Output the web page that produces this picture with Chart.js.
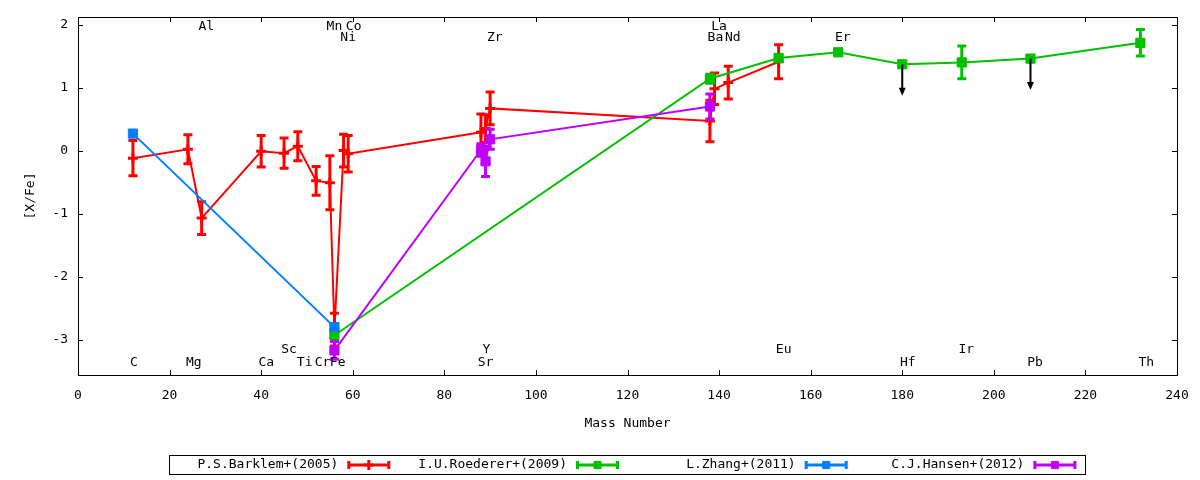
<!DOCTYPE html>
<html>
<head>
<meta charset="utf-8">
<script src="https://cdn.jsdelivr.net/npm/chart.js@4.4.0/dist/chart.umd.min.js"></script>
<style>
  html, body { margin: 0; padding: 0; background: #fff; }
  canvas { display: block; }
</style>
</head>
<body>
<canvas id="chart" width="1200" height="480"></canvas>
<script>
// [X/Fe] against mass number, one set of arrays per study
const barklemMass = [12, 24, 27, 40, 45, 48, 52, 55, 56, 58, 59, 88, 89, 90, 138, 139, 142, 153];
const barklemVal  = [-0.12, 0.02, -1.07, -0.01, -0.04, 0.07, -0.48, -0.51, -2.84, 0.0, -0.05, 0.29, 0.35, 0.67, 0.47, 0.98, 1.08, 1.41];
const barklemErr  = [0.28, 0.23, 0.26, 0.25, 0.24, 0.23, 0.23, 0.43, 0.26, 0.26, 0.29, 0.29, 0.22, 0.26, 0.33, 0.25, 0.26, 0.27];

const roedererMass  = [56, 138, 153, 166, 180, 193, 208, 232];
const roedererVal   = [-2.93, 1.14, 1.47, 1.56, 1.37, 1.40, 1.46, 1.71];
const roedererErr   = [0.03, 0.07, 0, 0, 0, 0.26, 0, 0.21];
const roedererUpper = [false, false, false, false, true, false, true, false];

const zhangMass = [12, 56];
const zhangVal  = [0.27, -2.80];
const zhangErr  = [0, 0];

const hansenMass = [56, 88, 89, 90, 138];
const hansenVal  = [-3.17, 0.01, -0.17, 0.18, 0.70];
const hansenErr  = [0.14, 0.10, 0.24, 0.16, 0.20];

// element names written inside the plot (x in mass number, y in [X/Fe])
const elemNames  = ['C', 'Mg', 'Al', 'Ca', 'Sc', 'Ti', 'Cr', 'Fe', 'Mn', 'Co', 'Ni', 'Sr', 'Y', 'Zr', 'Ba', 'La', 'Nd', 'Eu', 'Er', 'Hf', 'Ir', 'Pb', 'Th'];
const elemLabelX = [12.2, 25.3, 28.0, 41.1, 46.1, 49.5, 53.4, 56.7, 56.0, 60.2, 59.0, 89.0, 89.2, 91.0, 139.2, 140.0, 143.0, 154.1, 167.0, 181.2, 194.0, 209.0, 233.3];
const elemLabelY = [-3.37, -3.37, 1.96, -3.37, -3.16, -3.37, -3.37, -3.37, 1.96, 1.96, 1.80, -3.37, -3.16, 1.80, 1.80, 1.96, 1.80, -3.16, 1.80, -3.37, -3.16, -3.37, -3.37];

const xTicks = [0, 20, 40, 60, 80, 100, 120, 140, 160, 180, 200, 220, 240];
const yTicks = [-3, -2, -1, 0, 1, 2];
const limitArrow = 0.5;   // length of the upper-limit arrows, in dex

const FONT = '13px "DejaVu Sans Mono", monospace';

function points(mass, val) {
  return mass.map(function(m, i) { return { x: m, y: val[i] }; });
}

const errs = [barklemErr, roedererErr, zhangErr, hansenErr];

// error bars go under each dataset's line and points
function drawErrorBars(chart, index) {
  const ds = chart.data.datasets[index];
  const meta = chart.getDatasetMeta(index);
  const yScale = chart.scales.y;
  const e = errs[index];
  const ctx = chart.ctx;
  ctx.save();
  ctx.strokeStyle = ds.borderColor;
  ctx.lineWidth = 3;
  meta.data.forEach(function(pt, i) {
    if (!e[i]) return;
    const yTop = yScale.getPixelForValue(ds.data[i].y + e[i]);
    const yBot = yScale.getPixelForValue(ds.data[i].y - e[i]);
    ctx.beginPath();
    ctx.moveTo(pt.x, yTop); ctx.lineTo(pt.x, yBot);
    ctx.moveTo(pt.x - 4.5, yTop); ctx.lineTo(pt.x + 4.5, yTop);
    ctx.moveTo(pt.x - 4.5, yBot); ctx.lineTo(pt.x + 4.5, yBot);
    ctx.stroke();
  });
  ctx.restore();
}

const decor = {
  id: 'decor',
  beforeDraw: function(chart) {
    const ctx = chart.ctx;
    ctx.save();
    ctx.fillStyle = '#fff';
    ctx.fillRect(0, 0, chart.width, chart.height);
    ctx.restore();
  },
  beforeDatasetDraw: function(chart, args) {
    drawErrorBars(chart, args.index);
  },
  afterDatasetsDraw: function(chart) {
    // upper limits of Roederer+(2009)
    const ctx = chart.ctx;
    const xs = chart.scales.x, ys = chart.scales.y;
    ctx.save();
    ctx.strokeStyle = '#000';
    ctx.fillStyle = '#000';
    ctx.lineWidth = 2;
    roedererUpper.forEach(function(up, i) {
      if (!up) return;
      const px = xs.getPixelForValue(roedererMass[i]);
      const y0 = ys.getPixelForValue(roedererVal[i]);
      const y1 = ys.getPixelForValue(roedererVal[i] - limitArrow);
      ctx.beginPath();
      ctx.moveTo(px, y0); ctx.lineTo(px, y1 - 6);
      ctx.stroke();
      ctx.beginPath();
      ctx.moveTo(px - 3.5, y1 - 8); ctx.lineTo(px + 3.5, y1 - 8); ctx.lineTo(px, y1);
      ctx.closePath();
      ctx.fill();
    });
    ctx.restore();
  },
  afterDraw: function(chart) {
    const ctx = chart.ctx;
    const a = chart.chartArea;
    const xs = chart.scales.x, ys = chart.scales.y;
    ctx.save();

    // frame and inward ticks on all four sides
    ctx.strokeStyle = '#000';
    ctx.lineWidth = 1;
    ctx.strokeRect(a.left + 0.5, a.top + 0.5, a.right - a.left, a.bottom - a.top);
    ctx.beginPath();
    xTicks.forEach(function(v) {
      const px = Math.round(xs.getPixelForValue(v)) + 0.5;
      ctx.moveTo(px, a.bottom); ctx.lineTo(px, a.bottom - 5);
      ctx.moveTo(px, a.top); ctx.lineTo(px, a.top + 5);
    });
    yTicks.forEach(function(v) {
      const py = Math.round(ys.getPixelForValue(v)) + 0.5;
      ctx.moveTo(a.left, py); ctx.lineTo(a.left + 5, py);
      ctx.moveTo(a.right, py); ctx.lineTo(a.right - 5, py);
    });
    ctx.stroke();

    // element names
    ctx.font = FONT;
    ctx.fillStyle = '#000';
    ctx.textAlign = 'center';
    ctx.textBaseline = 'middle';
    elemNames.forEach(function(n, i) {
      ctx.fillText(n, xs.getPixelForValue(elemLabelX[i]), ys.getPixelForValue(elemLabelY[i]));
    });

    // axis titles
    ctx.fillText('Mass Number', (a.left + a.right) / 2, 424);
    ctx.save();
    ctx.translate(31, (a.top + a.bottom) / 2);
    ctx.rotate(-Math.PI / 2);
    ctx.fillText('[X/Fe]', 0, 0);
    ctx.restore();

    // gnuplot style key: text first, then sample
    const keyY = 465, step = 228.7, x0 = 347.3, len = 43;
    ctx.lineWidth = 1;
    ctx.strokeRect(169.5, 455.5, 916, 19);
    chart.data.datasets.forEach(function(ds, i) {
      const sx = x0 + i * step;
      ctx.fillStyle = '#000';
      ctx.textAlign = 'right';
      ctx.fillText(ds.label, sx - 9, keyY);
      ctx.strokeStyle = ds.borderColor;
      ctx.fillStyle = ds.borderColor;
      ctx.lineWidth = 3;
      ctx.beginPath();
      ctx.moveTo(sx, keyY); ctx.lineTo(sx + len, keyY);
      ctx.moveTo(sx + 1.5, keyY - 4); ctx.lineTo(sx + 1.5, keyY + 4);
      ctx.moveTo(sx + len - 1.5, keyY - 4); ctx.lineTo(sx + len - 1.5, keyY + 4);
      ctx.stroke();
      ctx.lineWidth = ds.pointBorderWidth;
      Chart.helpers.drawPoint(ctx, {
        pointStyle: ds.pointStyle,
        radius: 5,
        borderWidth: ds.pointBorderWidth,
        rotation: 0
      }, sx + len / 2, keyY);
    });
    ctx.restore();
  }
};

function series(label, mass, val, color, style, order) {
  const isCross = style === 'cross';
  return {
    label: label,
    data: points(mass, val),
    borderColor: color,
    backgroundColor: color,
    pointBackgroundColor: color,
    pointBorderColor: color,
    borderWidth: 2,
    pointStyle: style,
    pointRadius: isCross ? 5 : 6.5,
    pointBorderWidth: isCross ? 3 : 1,
    showLine: true,
    tension: 0,
    order: order
  };
}

new Chart(document.getElementById('chart').getContext('2d'), {
  type: 'line',
  data: {
    datasets: [
      series('P.S.Barklem+(2005)', barklemMass, barklemVal, '#ff0000', 'cross', 4),
      series('I.U.Roederer+(2009)', roedererMass, roedererVal, '#00c000', 'rect', 3),
      series('L.Zhang+(2011)', zhangMass, zhangVal, '#0080ff', 'rect', 2),
      series('C.J.Hansen+(2012)', hansenMass, hansenVal, '#c000ff', 'rect', 1)
    ]
  },
  options: {
    responsive: false,
    animation: false,
    devicePixelRatio: 1,
    layout: { padding: { top: 17, right: 23, left: 0, bottom: 0 } },
    plugins: {
      legend: { display: false },
      tooltip: { enabled: false }
    },
    scales: {
      x: {
        type: 'linear',
        min: 0,
        max: 240,
        afterBuildTicks: function(s) { s.ticks = xTicks.map(function(v) { return { value: v }; }); },
        afterFit: function(s) { s.height = 105; s.paddingLeft = 0; s.paddingRight = 0; },
        grid: { display: false, drawTicks: false },
        border: { display: false },
        ticks: {
          padding: 13,
          color: '#000',
          font: { family: '"DejaVu Sans Mono", monospace', size: 13 },
          maxRotation: 0,
          callback: function(v) { return String(v); }
        }
      },
      y: {
        type: 'linear',
        min: -3.56,
        max: 2.12,
        afterBuildTicks: function(s) { s.ticks = yTicks.map(function(v) { return { value: v }; }); },
        afterFit: function(s) { s.width = 78; s.paddingTop = 0; s.paddingBottom = 0; },
        grid: { display: false, drawTicks: false },
        border: { display: false },
        ticks: {
          padding: 10,
          color: '#000',
          font: { family: '"DejaVu Sans Mono", monospace', size: 13 },
          callback: function(v) { return String(v); }
        }
      }
    }
  },
  plugins: [decor]
});
</script>
</body>
</html>
